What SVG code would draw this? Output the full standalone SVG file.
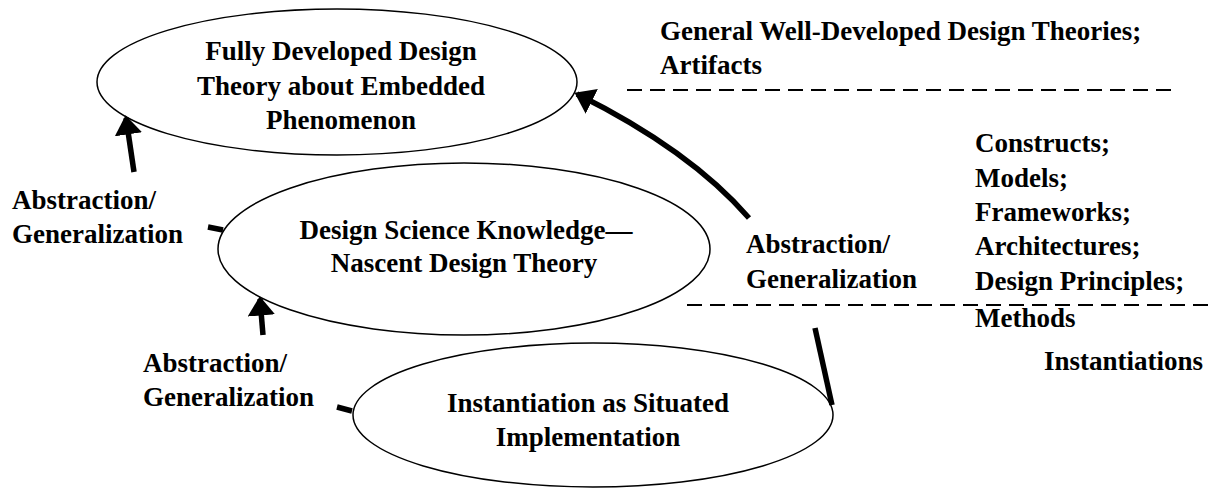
<svg xmlns="http://www.w3.org/2000/svg" width="1208" height="489" viewBox="0 0 1208 489">
<style>
text{font-family:"Liberation Serif","Times New Roman",serif;font-weight:bold;font-size:27px;fill:#000}
.c{text-anchor:middle}
.node{fill:#fff;stroke:#000;stroke-width:1.5}
.dash{stroke:#000;stroke-width:2;stroke-dasharray:15,8;fill:none}
.conn{stroke:#000;stroke-width:5.5;fill:none}
</style>
<defs>
<marker id="ah" viewBox="0 0 7 10" refX="6" refY="5" markerWidth="3.5" markerHeight="5" orient="auto" markerUnits="strokeWidth">
<path d="M0,0 L7,5 L0,10 z" fill="#000"/>
</marker>
</defs>
<rect width="1208" height="489" fill="#fff"/>
<g id="n1"><ellipse class="node" cx="337" cy="82" rx="240" ry="73"/>
<text class="c" x="341" y="60">Fully Developed Design</text>
<text class="c" x="341" y="95">Theory about Embedded</text>
<text class="c" x="341" y="129">Phenomenon</text></g>
<g id="n2"><ellipse class="node" cx="464" cy="249" rx="246" ry="86"/>
<text class="c" x="466" y="239">Design Science Knowledge—</text>
<text class="c" x="464" y="272">Nascent Design Theory</text></g>
<g id="n3"><ellipse class="node" cx="593" cy="415" rx="240" ry="72"/>
<text class="c" x="588" y="412">Instantiation as Situated</text>
<text class="c" x="588" y="446">Implementation</text></g>
<g id="levels">
<text x="660" y="40">General Well-Developed Design Theories;</text>
<text x="660" y="74">Artifacts</text>
<line class="dash" x1="627" y1="90" x2="1172" y2="90"/>
<text x="975" y="152">Constructs;</text>
<text x="975" y="187">Models;</text>
<text x="975" y="221">Frameworks;</text>
<text x="975" y="255">Architectures;</text>
<text x="975" y="290">Design Principles;</text>
<line class="dash" x1="687" y1="305" x2="1208" y2="305"/>
<text x="975" y="327">Methods</text>
<text x="1044" y="370">Instantiations</text>
</g>
<g id="labels">
<text x="12" y="209">Abstraction/</text>
<text x="12" y="243">Generalization</text>
<text x="143" y="372">Abstraction/</text>
<text x="143" y="406">Generalization</text>
<text x="746" y="253">Abstraction/</text>
<text x="746" y="288">Generalization</text>
</g>
<g id="connectors">
<line class="conn" x1="134" y1="172" x2="126" y2="118" marker-end="url(#ah)"/>
<line class="conn" x1="208" y1="227" x2="223" y2="230"/>
<line class="conn" x1="263" y1="335" x2="260" y2="299" marker-end="url(#ah)"/>
<line class="conn" x1="337" y1="407" x2="352" y2="411"/>
<path class="conn" d="M749,218 Q690,150 577,94" marker-end="url(#ah)"/>
<line class="conn" x1="815" y1="328" x2="832" y2="405"/>
</g>
</svg>
